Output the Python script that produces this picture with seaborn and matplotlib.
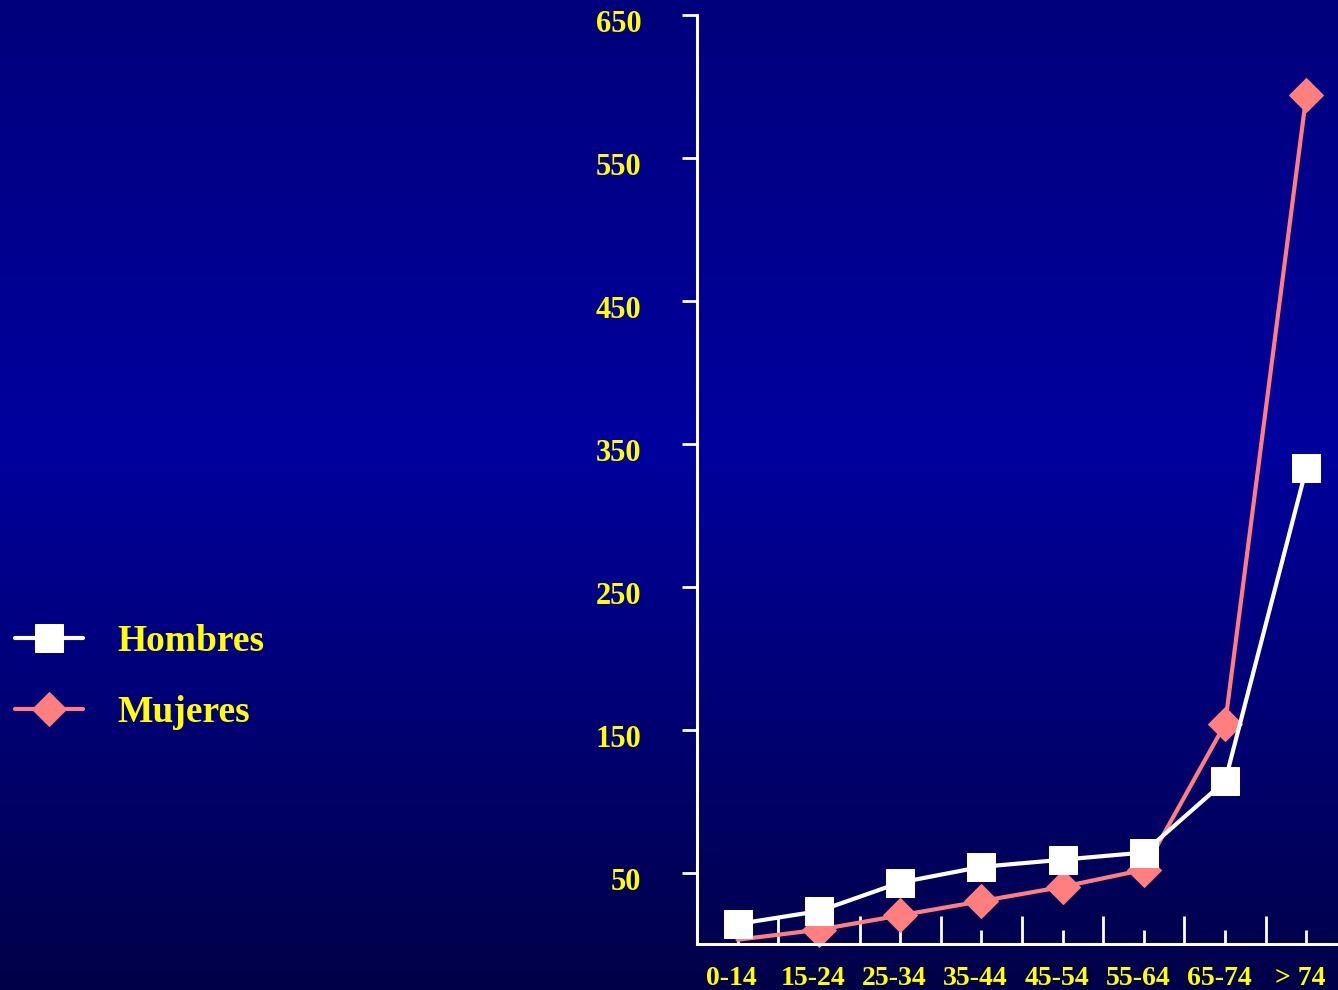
import numpy as np
import pandas as pd
import seaborn as sns
import matplotlib.pyplot as plt
import matplotlib.transforms as mtransforms
from matplotlib.colors import LinearSegmentedColormap

# data
age_groups = ['0-14', '15-24', '25-34', '35-44', '45-54', '55-64', '65-74', '> 74']
hombres = [14, 23, 43, 54, 59, 64, 114, 333]
mujeres = [3, 10, 20, 30, 40, 52, 154, 594]
y_ticks = [50, 150, 250, 350, 450, 550, 650]

sns.set_style('ticks')
plt.rcParams['font.family'] = ['Liberation Serif', 'DejaVu Serif']
plt.rcParams['font.weight'] = 'bold'

yellow = '#FFFF00'
pink = '#FF7F7F'

fig = plt.figure(figsize=(13.38, 9.9), dpi=100)

# vertical blue gradient background
bg = fig.add_axes([0, 0, 1, 1], zorder=-10)
cmap = LinearSegmentedColormap.from_list(
    'bg', [(0, '#00007C'), (0.45, '#00009E'), (1, '#000048')])
bg.imshow(np.linspace(0, 1, 256).reshape(-1, 1), aspect='auto', cmap=cmap,
          extent=[0, 1, 0, 1])
bg.axis('off')

ax = fig.add_axes([697 / 1338, 46 / 990, 650 / 1338, 929 / 990])
ax.patch.set_alpha(0)

df = pd.DataFrame({'pos': range(len(age_groups)),
                   'Hombres': hombres, 'Mujeres': mujeres})

sns.lineplot(data=df, x='pos', y='Mujeres', ax=ax, color=pink, linewidth=3,
             marker='D', markersize=17, markeredgecolor=pink,
             label='Mujeres', clip_on=False)
sns.lineplot(data=df, x='pos', y='Hombres', ax=ax, color='white', linewidth=3,
             marker='s', markersize=20, markeredgecolor='white',
             label='Hombres', clip_on=False)

ax.set_xlim(-0.5, 7.5)
ax.set_ylim(0, 650)
ax.set_xlabel('')
ax.set_ylabel('')
ax.grid(False)

ax.set_xticks(range(len(age_groups)), age_groups)
ax.set_xticks(np.arange(0.5, 7.5, 1), minor=True)
ax.tick_params(axis='x', which='major', direction='in', length=10, width=2,
               color='white', labelcolor=yellow, labelsize=20, pad=16)
ax.tick_params(axis='x', which='minor', direction='in', length=20, width=2,
               color='white')
ax.set_yticks(y_ticks)
ax.tick_params(axis='y', which='major', direction='out', length=11, width=2,
               color='white', labelcolor=yellow, labelsize=22, pad=29)
ax.tick_params(axis='y', which='minor', left=False)

for s in ['top', 'right']:
    ax.spines[s].set_visible(False)
for s in ['left', 'bottom']:
    ax.spines[s].set_color('white')
    ax.spines[s].set_linewidth(2.2)

# y labels sit a little below their ticks, x labels a little left
y_off = mtransforms.ScaledTranslation(0, -6 / 100, fig.dpi_scale_trans)
for lab in ax.get_yticklabels():
    lab.set_transform(lab.get_transform() + y_off)
x_off = mtransforms.ScaledTranslation(-6 / 100, 0, fig.dpi_scale_trans)
for lab in ax.get_xticklabels():
    lab.set_transform(lab.get_transform() + x_off)

handles, labels = ax.get_legend_handles_labels()
leg = ax.legend(handles[::-1], labels[::-1], loc='center left',
                bbox_to_anchor=(15 / 1338, 1 - 677 / 990),
                bbox_transform=fig.transFigure, frameon=False, fontsize=27,
                handlelength=1.8, handletextpad=0.93, labelspacing=0.97,
                borderpad=0, borderaxespad=0)
for t in leg.get_texts():
    t.set_color(yellow)

# first women's point has no visible marker
ax.lines[0].set_markevery(list(range(1, len(age_groups))))

fig.savefig('out.png', dpi=100)
